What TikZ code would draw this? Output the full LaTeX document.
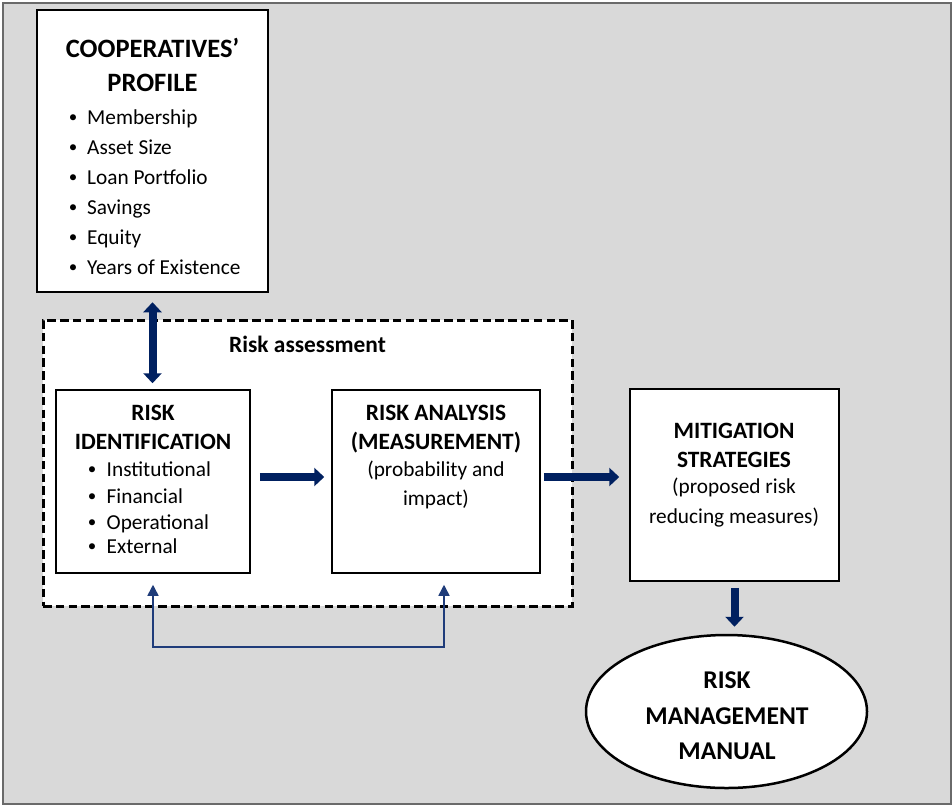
\documentclass[tikz,border=0pt]{standalone}
\usepackage{fontspec}
\setmainfont{Carlito}
\usetikzlibrary{arrows.meta,calc,shapes.geometric}
\definecolor{navy}{HTML}{002060}
\definecolor{thinnavy}{HTML}{1F3C7A}
\definecolor{bggray}{HTML}{D9D9D9}
\definecolor{framegray}{HTML}{6A6A6A}
\newcommand{\bodyfs}{\fontsize{21.3}{25}\selectfont}
\newcommand{\bulfs}{\fontsize{17}{20}\selectfont}
\newcommand{\headfs}{\fontsize{23.4}{27}\selectfont\bfseries}
\newcommand{\bigheadfs}{\fontsize{26.5}{30}\selectfont\bfseries}
\newcommand{\ellfs}{\fontsize{25.6}{30}\selectfont\bfseries}
\begin{document}
\begin{tikzpicture}[x=1pt,y=-1pt,
  txt/.style={anchor=base,inner sep=0pt,font=\bodyfs},
  head/.style={anchor=base,inner sep=0pt,font=\headfs},
  bighead/.style={anchor=base,inner sep=0pt,font=\bigheadfs},
  ellhead/.style={anchor=base,inner sep=0pt,font=\ellfs},
  item/.style={anchor=base west,inner sep=0pt,font=\bodyfs},
  bul/.style={anchor=base,inner sep=0pt,font=\bulfs,yshift=1.5pt},
  boxstyle/.style={draw=black,fill=white,line width=1.5pt,inner sep=0pt},
  bigarrow/.style={draw=navy,line width=8pt,-{Triangle[length=10pt,width=18pt]}},
  bigdouble/.style={draw=navy,line width=8pt,{Triangle[length=10pt,width=18pt]}-{Triangle[length=10pt,width=18pt]}},
  thinloop/.style={draw=thinnavy,line width=1.5pt,{Triangle[length=11pt,width=11pt]}-{Triangle[length=11pt,width=11pt]}}
]
\useasboundingbox (0,0) rectangle (952,806);
\path[fill=bggray,draw=framegray,line width=2pt] (2.5,2.5) rectangle (950.5,803.5);

% cooperatives profile
\node[boxstyle,minimum width=231pt,minimum height=282pt] (coop) at (152.5,151) {};
\node[bighead] (c1) at (152.5,57) {COOPERATIVES’};
\node[bighead] (c2) at (152.5,91) {PROFILE};
\node[bul] (cb1) at (73,124) {•}; \node[item] (ci1) at (87,124) {Membership};
\node[bul] (cb2) at (73,154) {•}; \node[item] (ci2) at (87,154) {Asset Size};
\node[bul] (cb3) at (73,184) {•}; \node[item] (ci3) at (87,184) {Loan Portfolio};
\node[bul] (cb4) at (73,214) {•}; \node[item] (ci4) at (87,214) {Savings};
\node[bul] (cb5) at (73,244) {•}; \node[item] (ci5) at (87,244) {Equity};
\node[bul] (cb6) at (73,274) {•}; \node[item] (ci6) at (87,274) {Years of Existence};

% risk assessment dashed frame
\node[draw=black,fill=white,line width=3pt,dash pattern=on 8.5pt off 4.3pt,inner sep=0pt,minimum width=529pt,minimum height=286pt] (ra) at (307.5,463) {};
\node[head,anchor=base west] (ratitle) at (229,352) {Risk assessment};

% risk identification
\node[boxstyle,minimum width=194pt,minimum height=183pt] (rid) at (153,481.5) {};
\node[head] (r1) at (153,420) {RISK};
\node[head] (r2) at (153,449) {IDENTIFICATION};
\node[bul] (rb1) at (92,476) {•}; \node[item] (ri1) at (106.5,476) {Institutional};
\node[bul] (rb2) at (92,503) {•}; \node[item] (ri2) at (106.5,503) {Financial};
\node[bul] (rb3) at (92,529) {•}; \node[item] (ri3) at (106.5,529) {Operational};
\node[bul] (rb4) at (92,553) {•}; \node[item] (ri4) at (106.5,553) {External};

% risk analysis
\node[boxstyle,minimum width=208pt,minimum height=183pt] (ran) at (436,481.5) {};
\node[head] (a1) at (436,420) {RISK ANALYSIS};
\node[head] (a2) at (436,449) {(MEASUREMENT)};
\node[txt] (a3) at (436,476) {(probability and};
\node[txt] (a4) at (436,505) {impact)};

% mitigation
\node[boxstyle,minimum width=209pt,minimum height=192pt] (mit) at (734.5,485) {};
\node[head] (m1) at (734,438) {MITIGATION};
\node[head] (m2) at (734,467) {STRATEGIES};
\node[txt] (m3) at (734,493) {(proposed risk};
\node[txt] (m4) at (734,523) {reducing measures)};

% manual ellipse
\node[ellipse,draw=black,fill=white,line width=2.5pt,inner sep=0pt,minimum width=281pt,minimum height=153pt] (man) at (726.5,711.5) {};
\node[ellhead] (e1) at (727,688) {RISK};
\node[ellhead] (e2) at (727,724) {MANAGEMENT};
\node[ellhead] (e3) at (727,759) {MANUAL};

% connectors
\draw[bigdouble,shorten <=9.5pt,shorten >=6pt] (coop.south) -- (coop.south |- rid.north);
\draw[bigarrow,shorten <=9pt,shorten >=7pt] ($(rid.east)+(0,-4.5)$) -- ($(rid.east -| ran.west)+(0,-4.5)$);
\draw[bigarrow,shorten <=3pt,shorten >=10pt] ($(ran.east)+(0,-4.5)$) -- ($(ran.east -| mit.west)+(0,-4.5)$);
\draw[bigarrow,shorten <=6pt,shorten >=7pt] (mit.south) -- (mit.south |- man.north);
\coordinate (loopy) at (300,647);
\draw[thinloop,shorten <=11pt,shorten >=11pt] (rid.south) |- (loopy) -| ($(ran.south)+(8,0)$);
\end{tikzpicture}
\end{document}
